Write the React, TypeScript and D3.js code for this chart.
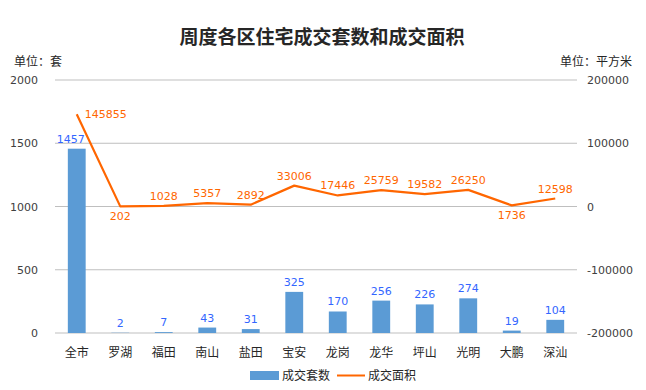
import React from "react";
import * as d3 from "d3";

const categories = ["全市", "罗湖", "福田", "南山", "盐田", "宝安", "龙岗", "龙华", "坪山", "光明", "大鹏", "深汕"];
const counts = [1457, 2, 7, 43, 31, 325, 170, 256, 226, 274, 19, 104];
const areas = [145855, 202, 1028, 5357, 2892, 33006, 17446, 25759, 19582, 26250, 1736, 12598];
const leftTicks = [0, 500, 1000, 1500, 2000];
const rightTicks = [-200000, -100000, 0, 100000, 200000];
// label placement for area labels: "above" | "below" | "right"
const areaLabelPos = ["right", "below", "above", "above", "above", "above", "above", "above", "above", "above", "below", "above"];

const W = 646, H = 390;
const L = 55, R = 577, T = 80, B = 333;

export default function App() {
  const x = d3.scaleBand<string>().domain(categories).range([L, R]).paddingInner(0.59).paddingOuter(0.295);
  const xc = d3.scaleBand<string>().domain(categories).range([L, R]);
  const yL = d3.scaleLinear().domain([0, 2000]).range([B, T]);
  const yR = d3.scaleLinear().domain([-200000, 200000]).range([B, T]);
  const cx = (c: string) => (xc(c) as number) + xc.bandwidth() / 2;
  const line = d3.line<number>().x((_, i) => cx(categories[i])).y((d) => yR(d)).curve(d3.curveLinear);
  const numFont = "'DejaVu Sans', sans-serif";
  const cjk = "'Noto Sans CJK SC', sans-serif";
  return (
    <svg width={W} height={H} style={{ position: "absolute", left: 0, top: 0, background: "#fff" }}>
      <rect x={0} y={0} width={W} height={H} fill="#fff" />
      <text x={W / 2 - 1} y={44} textAnchor="middle" fontFamily={cjk} fontWeight="bold" fontSize={19} fill="#262626">周度各区住宅成交套数和成交面积</text>
      <text x={14} y={66} fontFamily={cjk} fontSize={12} fill="#262626">单位：套</text>
      <text x={632} y={66} textAnchor="end" fontFamily={cjk} fontSize={12} fill="#262626">单位：平方米</text>
      {leftTicks.map((t) => (
        <g key={"g" + t}>
          <line x1={L} x2={R} y1={yL(t)} y2={yL(t)} stroke="#BFBFBF" strokeWidth={1} />
          <text x={38} y={yL(t) + 4} textAnchor="end" fontFamily={numFont} fontSize={11} fill="#404040">{t}</text>
        </g>
      ))}
      {rightTicks.map((t) => (
        <text key={"r" + t} x={587} y={yR(t) + 4} textAnchor="start" fontFamily={numFont} fontSize={11} fill="#404040">{t}</text>
      ))}
      {categories.map((c, i) => (
        <g key={c}>
          <rect x={x(c)} y={yL(counts[i])} width={x.bandwidth()} height={B - yL(counts[i])} fill="#5B9BD5" />
          <text x={cx(c) - (i === 0 ? 6 : 0)} y={yL(counts[i]) - 6} textAnchor="middle" fontFamily={numFont} fontSize={11} fill="#3366FF">{counts[i]}</text>
          <text x={cx(c)} y={357} textAnchor="middle" fontFamily={cjk} fontSize={12} fill="#262626">{c}</text>
        </g>
      ))}
      <path d={line(areas) || ""} fill="none" stroke="#FF6600" strokeWidth={2.2} strokeLinejoin="round" />
      {categories.map((c, i) => {
        const px = cx(c), py = yR(areas[i]);
        const pos = areaLabelPos[i];
        const lx = pos === "right" ? px + 8 : px;
        const ly = pos === "right" ? py + 4 : pos === "below" ? py + 14 : py - 6;
        return (
          <text key={"a" + c} x={lx} y={ly} textAnchor={pos === "right" ? "start" : "middle"} fontFamily={numFont} fontSize={11} fill="#FF6600">{areas[i]}</text>
        );
      })}
      <rect x={250} y={371} width={29} height={9} fill="#5B9BD5" />
      <text x={282} y={380} fontFamily={cjk} fontSize={12} fill="#262626">成交套数</text>
      <line x1={337} x2={365} y1={375.5} y2={375.5} stroke="#FF6600" strokeWidth={2} />
      <text x={368} y={380} fontFamily={cjk} fontSize={12} fill="#262626">成交面积</text>
    </svg>
  );
}
